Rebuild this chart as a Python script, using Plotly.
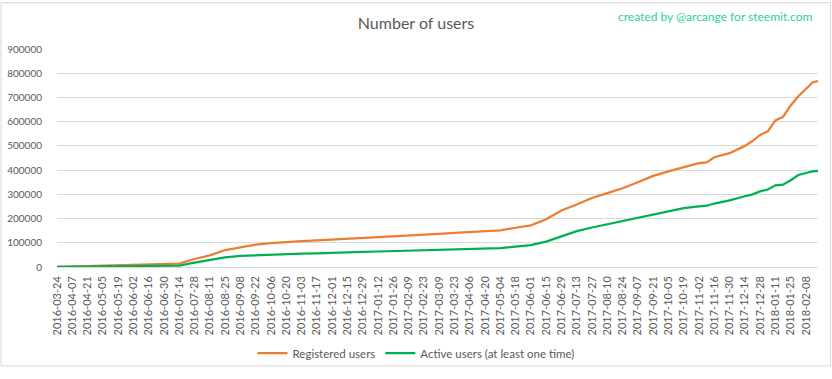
import plotly.graph_objects as go
import pandas as pd

dates = [
    "2016-03-24", "2016-04-07", "2016-04-21", "2016-05-05", "2016-05-19", "2016-06-02",
    "2016-06-16", "2016-06-30", "2016-07-14", "2016-07-28", "2016-08-11", "2016-08-25",
    "2016-09-08", "2016-09-22", "2016-10-06", "2016-10-20", "2016-11-03", "2016-11-17",
    "2016-12-01", "2016-12-15", "2016-12-29", "2017-01-12", "2017-01-26", "2017-02-09",
    "2017-02-23", "2017-03-09", "2017-03-23", "2017-04-06", "2017-04-20", "2017-05-04",
    "2017-05-18", "2017-06-01", "2017-06-15", "2017-06-29", "2017-07-13", "2017-07-27",
    "2017-08-10", "2017-08-24", "2017-09-07", "2017-09-21", "2017-10-05", "2017-10-19",
    "2017-11-02", "2017-11-09", "2017-11-16", "2017-11-30", "2017-12-14", "2017-12-21",
    "2017-12-28", "2018-01-04", "2018-01-11", "2018-01-18", "2018-01-25", "2018-02-01",
    "2018-02-08", "2018-02-14", "2018-02-19",
]

registered_users = [
    0, 2000, 3000, 6000, 8000, 10000,
    11000, 13000, 14000, 33000, 48000, 70000,
    82000, 92000, 99000, 104000, 107000, 110000,
    113000, 117000, 122000, 124000, 128000, 131000,
    134000, 137000, 141000, 145000, 149000, 151000,
    162000, 172000, 197000, 233000, 258000, 285000,
    305000, 325000, 350000, 376000, 395000, 412000,
    429000, 432000, 453000, 470000, 500000, 520000,
    545000, 560000, 605000, 620000, 667000, 705000,
    735000, 762000, 768000,
]

active_users = [
    0, 1000, 2000, 3000, 3500, 4000,
    4500, 5000, 6000, 18000, 30000, 40000,
    46000, 49000, 52000, 54000, 55000, 56000,
    57000, 60000, 62000, 64000, 66000, 67000,
    68000, 70000, 72000, 74000, 76000, 78000,
    84000, 90000, 105000, 128000, 148000, 163000,
    176000, 190000, 205000, 218000, 230000, 243000,
    250000, 253000, 262000, 275000, 292000, 300000,
    312000, 320000, 337000, 340000, 358000, 380000,
    388000, 395000, 397000,
]

tick_dates = pd.date_range("2016-03-24", "2018-02-08", freq="14D")
y_ticks = list(range(0, 900001, 100000))

grey = "#595959"
font_family = "Lato, 'Open Sans', sans-serif"

fig = go.Figure()
fig.add_trace(go.Scatter(
    x=dates, y=registered_users, mode="lines", name="Registered users",
    line=dict(color="#ED7D31", width=2.25),
))
fig.add_trace(go.Scatter(
    x=dates, y=active_users, mode="lines", name="Active users (at least one time)",
    line=dict(color="#00B050", width=2.25),
))

fig.update_layout(
    width=832, height=379,
    margin=dict(l=57, r=14, t=49, b=104),
    paper_bgcolor="white", plot_bgcolor="white",
    font=dict(family=font_family, color=grey, size=10),
    title=dict(text="Number of users", x=0.5, xanchor="center", y=1 - 23 / 379,
               yanchor="middle", font=dict(size=16, color=grey, family=font_family)),
    showlegend=True,
    legend=dict(orientation="h", x=(416 - 57) / 761, xanchor="center", y=-0.395,
                yanchor="middle", font=dict(size=11.5, color=grey), itemwidth=30,
                bgcolor="rgba(0,0,0,0)"),
    xaxis=dict(
        type="date", range=["2016-03-24", "2018-02-19"],
        tickmode="array", tickvals=list(tick_dates),
        ticktext=[d.strftime("%Y-%m-%d") for d in tick_dates],
        tickangle=-90, showgrid=False, zeroline=False, showline=False,
        ticks="", ticklabelstandoff=6, tickfont=dict(size=11, color=grey),
        automargin=False,
    ),
    yaxis=dict(
        range=[0, 900000], tickmode="array", tickvals=y_ticks,
        ticktext=[str(v) for v in y_ticks],
        showgrid=True, gridcolor="#d9d9d9", gridwidth=1,
        zeroline=True, zerolinecolor="#d9d9d9", zerolinewidth=1,
        showline=False, ticks="", ticklabelstandoff=14,
        tickfont=dict(size=10, color=grey), automargin=False,
    ),
    annotations=[dict(
        text="created by @arcange for steemit.com", xref="paper", yref="paper",
        x=(815 - 57) / 761, y=(275 - 15) / 226, xanchor="right", yanchor="middle",
        showarrow=False, font=dict(size=12, color="#2ecf9f", family=font_family),
    )],
    shapes=[dict(
        type="rect", xref="paper", yref="paper",
        x0=(1 - 57) / 761, x1=(830.5 - 57) / 761,
        y0=(275 - 377.5) / 226, y1=(275 - 1) / 226,
        line=dict(color="#d9d9d9", width=1), fillcolor="rgba(0,0,0,0)", layer="below",
    )],
)

fig.write_html(
    "out.html",
    config={"displayModeBar": False},
    post_script="document.body.style.margin='0';document.body.style.overflow='hidden';",
)
